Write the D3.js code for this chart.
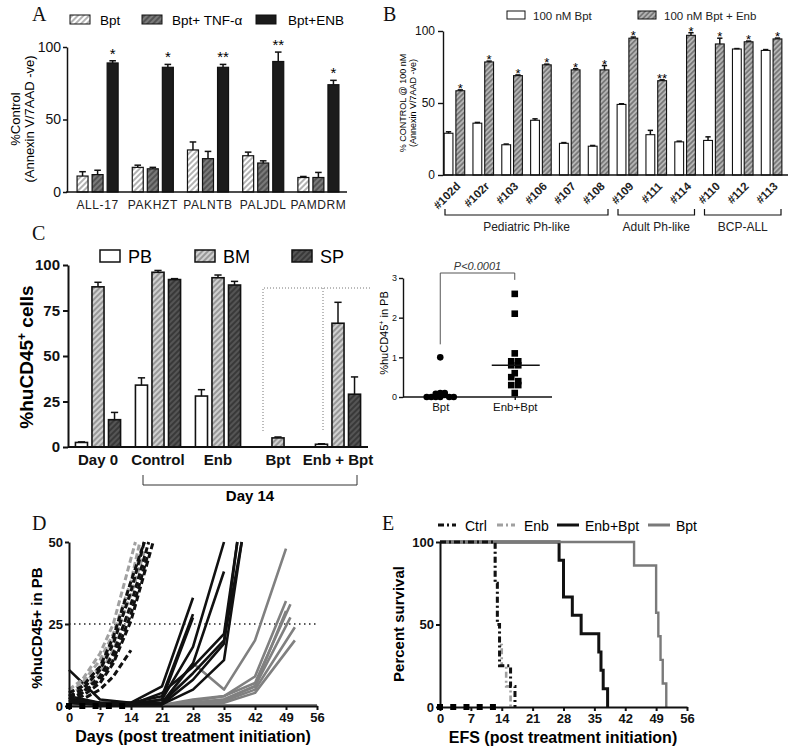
<!DOCTYPE html>
<html>
<head>
<meta charset="utf-8">
<script src="https://cdn.jsdelivr.net/npm/d3@7"></script>
<style>
  body { margin: 0; background: #fff; }
  svg { font-family: 'Liberation Sans', Arial, sans-serif; }
</style>
</head>
<body>
<svg id="fig" width="800" height="754"></svg>
<script>
// ---- panel A data
var aCategories = ['ALL-17', 'PAKHZT', 'PALNTB', 'PALJDL', 'PAMDRM']
var aBpt = [11, 17, 29, 25, 10]
var aBptErr = [3, 1.5, 5.5, 2.5, 0.7]
var aTnf = [12, 16, 23, 20, 10]
var aTnfErr = [3, 1, 5, 1.5, 3.5]
var aEnb = [89, 86, 86, 90, 74]
var aEnbErr = [1.5, 2, 2, 6.5, 3]
var aStars = ['*', '*', '**', '**', '*']

// ---- panel B data
var bCategories = ['#102d', '#102r', '#103', '#106', '#107', '#108', '#109', '#111', '#114', '#110', '#112', '#113']
var bBpt = [29, 36, 21, 38, 22, 20, 49, 28, 23, 24, 87.5, 86.5]
var bBptErr = [1, 0.5, 0.5, 1, 0.5, 0.5, 0.5, 3, 0.5, 2.5, 0.3, 0.6]
var bBptEnb = [58.5, 78.5, 69, 76.5, 73, 73, 95, 65.5, 97, 91, 92.5, 94.5]
var bBptEnbErr = [0.6, 0.6, 0.5, 0.5, 0.8, 3, 0.8, 0.6, 1.8, 4, 0.5, 0.6]
var bStars = ['*', '*', '*', '*', '*', '*', '*', '**', '*', '*', '*', '*']
var bGroupNames = ['Pediatric Ph-like', 'Adult Ph-like', 'BCP-ALL']
var bGroupFirst = ['#102d', '#109', '#110']
var bGroupLast = ['#108', '#114', '#113']

// ---- panel C data
var cCategories = ['Day 0', 'Control', 'Enb', 'Bpt', 'Enb + Bpt']
var cPB = [2.5, 34, 28, 0, 1.5]
var cPBErr = [0.3, 4, 3.5, 0, 0.3]
var cBM = [88, 96, 93, 5, 68]
var cBMErr = [2.5, 1, 1.5, 0.5, 11.5]
var cSP = [15, 92, 89, 0, 29]
var cSPErr = [4, 0.5, 2, 0, 9.5]

// inset scatter (%huCD45+ in PB)
var sBpt = [1.0, 0, 0, 0, 0, 0.05, 0.08, 0.1, 0, 0, 0.1]
var sEnbBpt = [2.6, 2.1, 1.1, 0.9, 0.9, 0.8, 0.8, 0.6, 0.5, 0.4, 0.3, 0.3, 0.1]

// ---- panel D data (day, %huCD45+)
var dCtrl = [
  [[0, 2], [3, 4], [7, 9], [10, 16], [14, 31], [18, 50]],
  [[0, 3], [3, 5], [7, 11], [10, 19], [14, 35], [17, 50]],
  [[0, 2], [3, 3], [7, 7], [10, 13], [14, 26], [19, 50]],
  [[0, 4], [3, 6], [7, 12], [10, 21], [14, 38], [17, 50]],
  [[0, 1], [3, 2], [7, 5], [10, 9], [14, 17]],
  [[0, 3], [3, 4], [7, 8], [10, 14], [14, 28], [18, 47]]
]
var dEnb = [
  [[0, 4], [3, 7], [7, 14], [10, 22], [14, 38], [16, 50]],
  [[0, 5], [3, 8], [7, 16], [10, 25], [13, 40], [15, 50]],
  [[0, 3], [3, 6], [7, 12], [10, 20], [14, 34], [17, 47]],
  [[0, 2], [3, 4], [7, 10], [10, 17], [14, 30]]
]
var dEnbBpt = [
  [[0, 11], [7, 2], [14, 1], [21, 6], [28, 33]],
  [[0, 2], [7, 1], [14, 1], [21, 3], [28, 28]],
  [[0, 1], [7, 0.5], [14, 0.5], [21, 2], [28, 27]],
  [[0, 3], [7, 1], [14, 0.5], [21, 2], [28, 18], [35, 50]],
  [[0, 2], [7, 0.5], [14, 1], [21, 1], [28, 13], [35, 41]],
  [[0, 1], [7, 0.5], [14, 0.5], [21, 4], [28, 12], [35, 22], [38, 50]],
  [[0, 2], [7, 1], [14, 0.5], [21, 1], [28, 10], [35, 20], [39, 50]],
  [[0, 1], [7, 0.5], [14, 0.5], [21, 0.5], [28, 8], [35, 19], [38, 50]],
  [[0, 2], [7, 0.5], [14, 0.5], [21, 0.5], [28, 5], [35, 14], [39, 50]]
]
var dBpt = [
  [[0, 3], [7, 0.5], [14, 0.3], [21, 0.5], [28, 13], [35, 5], [42, 20], [49, 48]],
  [[0, 2], [7, 0.5], [14, 0.3], [21, 0.3], [28, 2], [35, 3], [42, 9], [49, 32]],
  [[0, 1], [7, 0.3], [14, 0.2], [21, 0.2], [28, 1.5], [35, 3], [42, 7], [50, 31]],
  [[0, 1], [7, 0.3], [14, 0.2], [21, 0.3], [28, 1], [35, 2], [42, 6], [49, 29]],
  [[0, 0.5], [7, 0.2], [14, 0.2], [21, 0.2], [28, 1], [35, 2], [42, 6], [50, 27]],
  [[0, 0.5], [7, 0.2], [14, 0.1], [21, 0.2], [28, 0.5], [35, 1.5], [42, 5], [51, 24]],
  [[0, 0.3], [7, 0.1], [14, 0.1], [21, 0.1], [28, 0.5], [35, 1], [42, 4], [51, 20]],
  [[0, 0.2], [7, 0.1], [14, 0.1], [21, 0.1], [28, 0.3], [35, 0.2], [42, 0.2], [49, 0.2], [56, 0.2]]
]
var dosingDays = [0, 3, 6, 9, 12]
var dayTicks = [0, 7, 14, 21, 28, 35, 42, 49, 56]

// ---- panel E data (event days)
var eCtrl = [12.5, 12.5, 13, 13, 13.5, 13.5, 16, 17]
var eEnb = [12.5, 12.5, 13, 13, 13.5, 14, 15, 16]
var eEnbBpt = [27, 28, 28, 30, 32, 36, 36.5, 37, 38]
var eBpt = [44, 49, 49, 49.5, 50, 50.5, 51.3]

var svg = d3.select('#fig')
var defs = svg.append('defs')
var serif = "'Liberation Serif', 'DejaVu Serif', serif"

function hatch (id, bg, fg, gap, sw) {
  var p = defs.append('pattern')
    .attr('id', id)
    .attr('patternUnits', 'userSpaceOnUse')
    .attr('width', gap)
    .attr('height', gap)
    .attr('patternTransform', 'rotate(45)')
  p.append('rect').attr('width', gap).attr('height', gap).attr('fill', bg)
  p.append('line')
    .attr('x1', gap / 2).attr('y1', 0).attr('x2', gap / 2).attr('y2', gap)
    .attr('stroke', fg).attr('stroke-width', sw)
}
hatch('hA1', '#fff', '#8a8a8a', 4, 1.3)
hatch('hA2', '#7a7a7a', '#3e3e3e', 4, 1.3)
hatch('hB', '#b5b5b5', '#555', 3.5, 1.1)
hatch('hC1', '#d0d0d0', '#7a7a7a', 4, 1.3)
hatch('hC2', '#555', '#2a2a2a', 4, 1.3)

function panelLetter (t, x, y) {
  svg.append('text').attr('x', x).attr('y', y).text(t)
    .style('font-family', serif).style('font-size', '20px').style('fill', '#111')
}

// generic grouped bars with upward error bars
function drawBars (g, cats, x, sub, y, series, sw) {
  series.forEach(function (s) {
    var rows = cats.map(function (c, i) {
      return { cat: c, v: s.values[i], e: s.err[i] }
    }).filter(function (d) { return d.v > 0 })
    var bw = sub.bandwidth()
    g.selectAll('.bar-' + s.key)
      .data(rows)
      .enter()
      .append('rect')
      .attr('x', function (d) { return x(d.cat) + sub(s.key) })
      .attr('y', function (d) { return y(d.v) })
      .attr('width', bw)
      .attr('height', function (d) { return y(0) - y(d.v) })
      .attr('fill', s.fill)
      .attr('stroke', '#111')
      .attr('stroke-width', sw)
    var eb = g.selectAll('.err-' + s.key)
      .data(rows.filter(function (d) { return d.e > 0 }))
      .enter()
      .append('g')
    eb.append('line')
      .attr('x1', function (d) { return x(d.cat) + sub(s.key) + bw / 2 })
      .attr('x2', function (d) { return x(d.cat) + sub(s.key) + bw / 2 })
      .attr('y1', function (d) { return y(d.v) })
      .attr('y2', function (d) { return y(d.v + d.e) })
      .attr('stroke', '#111').attr('stroke-width', 1.5)
    eb.append('line')
      .attr('x1', function (d) { return x(d.cat) + sub(s.key) + bw / 2 - bw * 0.3 })
      .attr('x2', function (d) { return x(d.cat) + sub(s.key) + bw / 2 + bw * 0.3 })
      .attr('y1', function (d) { return y(d.v + d.e) })
      .attr('y2', function (d) { return y(d.v + d.e) })
      .attr('stroke', '#111').attr('stroke-width', 1.5)
  })
}

function styleAxis (sel, size, weight, width) {
  sel.selectAll('path,line').attr('stroke', '#111').attr('stroke-width', width)
  sel.selectAll('text')
    .style('font-size', size + 'px')
    .style('font-weight', weight)
    .style('fill', '#111')
    .style('font-family', "'Liberation Sans', Arial, sans-serif")
}

// ================= Panel A =================
panelLetter('A', 32, 21)
var gA = svg.append('g')
var xA = d3.scaleBand().domain(aCategories).range([70, 346])
var subA = d3.scaleBand().domain(['Bpt', 'TNF', 'ENB']).range([0, xA.bandwidth()])
  .paddingInner(0.27).paddingOuter(0.47)
var yA = d3.scaleLinear().domain([0, 100]).range([192, 47])

drawBars(gA, aCategories, xA, subA, yA, [
  { key: 'Bpt', values: aBpt, err: aBptErr, fill: 'url(#hA1)' },
  { key: 'TNF', values: aTnf, err: aTnfErr, fill: 'url(#hA2)' },
  { key: 'ENB', values: aEnb, err: aEnbErr, fill: '#1b1b1b' }
], 1.2)

gA.selectAll('.starA')
  .data(aCategories)
  .enter()
  .append('text')
  .attr('x', function (d) { return xA(d) + subA('ENB') + subA.bandwidth() / 2 })
  .attr('y', function (d, i) { return yA(aEnb[i] + aEnbErr[i]) - 2 })
  .attr('text-anchor', 'middle')
  .style('font-size', '15px')
  .text(function (d, i) { return aStars[i] })

var yAxA = gA.append('g').attr('transform', 'translate(67,0)')
  .call(d3.axisLeft(yA).tickValues([0, 50, 100]).tickSize(4).tickSizeOuter(0).tickPadding(2))
styleAxis(yAxA, 14, 'normal', 1.5)
var xAxA = gA.append('g').attr('transform', 'translate(0,192)')
  .call(d3.axisBottom(xA).tickSize(0).tickPadding(8))
xAxA.select('.domain').attr('d', 'M66,0H347')
styleAxis(xAxA, 12, 'normal', 1.5)
xAxA.selectAll('text').style('letter-spacing', '0.6px').style('fill', '#222')

gA.append('text').attr('transform', 'translate(20,119) rotate(-90)')
  .attr('text-anchor', 'middle').style('font-size', '13px').text('%Control')
gA.append('text').attr('transform', 'translate(34,119) rotate(-90)')
  .attr('text-anchor', 'middle').style('font-size', '13px').text('(Annexin V/7AAD -ve)')

var aLegend = [
  { label: 'Bpt', fill: 'url(#hA1)', x: 70 },
  { label: 'Bpt+ TNF-\u03b1', fill: 'url(#hA2)', x: 142 },
  { label: 'Bpt+ENB', fill: '#1b1b1b', x: 256 }
]
var lgA = gA.selectAll('.lgA').data(aLegend).enter().append('g')
  .attr('transform', function (d) { return 'translate(' + d.x + ',15)' })
lgA.append('rect').attr('width', 20).attr('height', 9)
  .attr('fill', function (d) { return d.fill }).attr('stroke', '#111').attr('stroke-width', 1)
lgA.append('text').attr('x', function (d, i) { return i === 2 ? 32 : 30 }).attr('y', 10)
  .style('font-size', '13.5px').text(function (d) { return d.label })

// ================= Panel B =================
panelLetter('B', 383, 21)
var gB = svg.append('g')
var xB = d3.scaleBand().domain(bCategories).range([440, 786])
var subB = d3.scaleBand().domain(['bpt', 'enb']).range([0, xB.bandwidth()])
  .paddingInner(0.25).paddingOuter(0.35)
var yB = d3.scaleLinear().domain([0, 100]).range([175, 31])

drawBars(gB, bCategories, xB, subB, yB, [
  { key: 'bpt', values: bBpt, err: bBptErr, fill: '#fff' },
  { key: 'enb', values: bBptEnb, err: bBptEnbErr, fill: 'url(#hB)' }
], 1.1)

gB.selectAll('.starB')
  .data(bCategories)
  .enter()
  .append('text')
  .attr('x', function (d) { return xB(d) + subB('enb') + subB.bandwidth() / 2 })
  .attr('y', function (d, i) { return yB(bBptEnb[i] + bBptEnbErr[i]) + 3 })
  .attr('text-anchor', 'middle')
  .style('font-size', '13px')
  .text(function (d, i) { return bStars[i] })

var yAxB = gB.append('g').attr('transform', 'translate(443,0)')
  .call(d3.axisLeft(yB).tickValues([0, 50, 100]).tickSize(5).tickSizeOuter(0).tickPadding(3))
styleAxis(yAxB, 12, 'normal', 1.4)
var xAxB = gB.append('g').attr('transform', 'translate(0,175)')
  .call(d3.axisBottom(xB).tickSize(0).tickFormat(''))
xAxB.select('.domain').attr('d', 'M443,0H788')
styleAxis(xAxB, 12, 'normal', 1.4)

gB.selectAll('.xlabB')
  .data(bCategories)
  .enter()
  .append('text')
  .attr('transform', function (d) {
    return 'translate(' + (xB(d) + xB.bandwidth() / 2 + 4) + ',184) rotate(-45)'
  })
  .attr('text-anchor', 'end')
  .attr('dy', '0.35em')
  .style('font-size', '11.5px')
  .style('font-weight', 'bold')
  .style('fill', '#222')
  .text(function (d) { return d })

bGroupNames.forEach(function (name, i) {
  var x0 = xB(bGroupFirst[i]) + 5
  var x1 = xB(bGroupLast[i]) + xB.bandwidth() - 5
  gB.append('path')
    .attr('d', 'M' + x0 + ',209V215H' + x1 + 'V209')
    .attr('fill', 'none').attr('stroke', '#111').attr('stroke-width', 1.2)
  gB.append('text').attr('x', (x0 + x1) / 2).attr('y', 231)
    .attr('text-anchor', 'middle').style('font-size', '12px').style('fill', '#222').text(name)
})

gB.append('text').attr('transform', 'translate(406,103) rotate(-90)')
  .attr('text-anchor', 'middle').style('font-size', '9px').text('% CONTROL @ 100 nM')
gB.append('text').attr('transform', 'translate(416,103) rotate(-90)')
  .attr('text-anchor', 'middle').style('font-size', '9px').text('(Annexin V/7AAD -ve)')

var bLegend = [
  { label: '100 nM Bpt', fill: '#fff', x: 507 },
  { label: '100 nM Bpt + Enb', fill: 'url(#hB)', x: 638 }
]
var lgB = gB.selectAll('.lgB').data(bLegend).enter().append('g')
  .attr('transform', function (d) { return 'translate(' + d.x + ',11)' })
lgB.append('rect').attr('width', 18).attr('height', 8)
  .attr('fill', function (d) { return d.fill }).attr('stroke', '#111').attr('stroke-width', 1)
lgB.append('text').attr('x', 26).attr('y', 8.5)
  .style('font-size', '11.5px').style('fill', '#222').text(function (d) { return d.label })

// ================= Panel C =================
panelLetter('C', 32, 240)
var gC = svg.append('g')
var xC = d3.scaleBand().domain(cCategories).range([68, 368])
var subC = d3.scaleBand().domain(['PB', 'BM', 'SP']).range([0, xC.bandwidth()])
  .paddingInner(0.27).paddingOuter(0.45)
var yC = d3.scaleLinear().domain([0, 100]).range([447, 265])

// dotted box linking to the inset
gC.append('path')
  .attr('d', 'M' + (xC('Bpt') + 15) + ',431V288H372M' + (xC('Enb + Bpt') + 15) + ',288V431')
  .attr('fill', 'none').attr('stroke', '#777').attr('stroke-width', 1)
  .attr('stroke-dasharray', '1,2')

drawBars(gC, cCategories, xC, subC, yC, [
  { key: 'PB', values: cPB, err: cPBErr, fill: '#fff' },
  { key: 'BM', values: cBM, err: cBMErr, fill: 'url(#hC1)' },
  { key: 'SP', values: cSP, err: cSPErr, fill: 'url(#hC2)' }
], 1.6)

var yAxC = gC.append('g').attr('transform', 'translate(68,0)')
  .call(d3.axisLeft(yC).tickValues([0, 25, 50, 75, 100]).tickSize(5).tickSizeOuter(0).tickPadding(3))
styleAxis(yAxC, 15, 'bold', 2)
var xAxC = gC.append('g').attr('transform', 'translate(0,447)')
  .call(d3.axisBottom(xC).tickSize(0).tickPadding(7))
xAxC.select('.domain').attr('d', 'M68,0H368')
styleAxis(xAxC, 15, 'bold', 2)

var d14l = xC('Control') + 15
var d14r = xC('Enb + Bpt') + xC.bandwidth() - 11
gC.append('path')
  .attr('d', 'M' + d14l + ',475V485H' + d14r + 'V475')
  .attr('fill', 'none').attr('stroke', '#333').attr('stroke-width', 1)
gC.append('text').attr('x', (d14l + d14r) / 2).attr('y', 501)
  .attr('text-anchor', 'middle').style('font-size', '15px').style('font-weight', 'bold').text('Day 14')

var yTitleC = gC.append('text').attr('transform', 'translate(33,357) rotate(-90)')
  .attr('text-anchor', 'middle').style('font-size', '19px').style('font-weight', 'bold')
yTitleC.append('tspan').text('%huCD45')
yTitleC.append('tspan').attr('dy', -7).style('font-size', '12px').text('+')
yTitleC.append('tspan').attr('dy', 7).text(' cells')

var cLegend = [
  { label: 'PB', fill: '#fff', x: 100 },
  { label: 'BM', fill: 'url(#hC1)', x: 195 },
  { label: 'SP', fill: 'url(#hC2)', x: 292 }
]
var lgC = gC.selectAll('.lgC').data(cLegend).enter().append('g')
  .attr('transform', function (d) { return 'translate(' + d.x + ',250)' })
lgC.append('rect').attr('width', 20).attr('height', 12)
  .attr('fill', function (d) { return d.fill }).attr('stroke', '#111').attr('stroke-width', 1.5)
lgC.append('text').attr('x', 28).attr('y', 13)
  .style('font-size', '18px').text(function (d) { return d.label })

// ---- inset scatter
var gS = svg.append('g')
var xS = d3.scalePoint().domain(['Bpt', 'Enb+Bpt']).range([403, 552]).padding(0.5)
var yS = d3.scaleLinear().domain([0, 3]).range([397, 278])

// simple dodge: points falling in the same value bin are spread sideways
function dodge (values, spacing) {
  var bins = d3.group(values.map(function (v, i) { return { v: v, i: i } }),
    function (d) { return Math.round(d.v / 0.15) })
  var out = []
  bins.forEach(function (arr) {
    arr.forEach(function (d, k) {
      out.push({ v: d.v, off: (k - (arr.length - 1) / 2) * spacing })
    })
  })
  return out
}

var yAxS = gS.append('g').attr('transform', 'translate(403,0)')
  .call(d3.axisLeft(yS).tickValues([0, 1, 2, 3]).tickFormat(d3.format('d'))
    .tickSize(4).tickSizeOuter(0).tickPadding(2))
styleAxis(yAxS, 9, 'normal', 1.4)
var xAxS = gS.append('g').attr('transform', 'translate(0,397)')
  .call(d3.axisBottom(xS).tickSize(3).tickPadding(3))
xAxS.select('.domain').attr('d', 'M403,0H552')
styleAxis(xAxS, 11.5, 'normal', 1.4)

gS.selectAll('.ptBpt')
  .data(dodge(sBpt, 4.5))
  .enter()
  .append('circle')
  .attr('cx', function (d) { return xS('Bpt') + d.off })
  .attr('cy', function (d) { return yS(d.v) })
  .attr('r', 3.3)
  .attr('fill', '#000')

gS.selectAll('.ptEnb')
  .data(dodge(sEnbBpt, 7))
  .enter()
  .append('rect')
  .attr('x', function (d) { return xS('Enb+Bpt') + d.off - 3.3 })
  .attr('y', function (d) { return yS(d.v) - 3.3 })
  .attr('width', 6.6)
  .attr('height', 6.6)
  .attr('fill', '#000')

var medEnb = d3.median(sEnbBpt)
gS.append('line')
  .attr('x1', xS('Enb+Bpt') - 23).attr('x2', xS('Enb+Bpt') + 25)
  .attr('y1', yS(medEnb)).attr('y2', yS(medEnb))
  .attr('stroke', '#111').attr('stroke-width', 1.6)

var pTop = yS(3) - 5
gS.append('path')
  .attr('d', 'M' + xS('Bpt') + ',' + (yS(d3.max(sBpt)) - 13) + 'V' + pTop + 'H' + xS('Enb+Bpt') +
    'V' + (yS(d3.max(sEnbBpt)) - 14))
  .attr('fill', 'none').attr('stroke', '#555').attr('stroke-width', 1)
gS.append('text').attr('x', (xS('Bpt') + xS('Enb+Bpt')) / 2).attr('y', pTop - 3)
  .attr('text-anchor', 'middle').style('font-size', '11px').style('font-style', 'italic')
  .style('fill', '#333').text('P<0.0001')

var yTitleS = gS.append('text').attr('transform', 'translate(388,333) rotate(-90)')
  .attr('text-anchor', 'middle').style('font-size', '11px')
yTitleS.append('tspan').text('%huCD45')
yTitleS.append('tspan').attr('dy', -4).style('font-size', '7px').text('+')
yTitleS.append('tspan').attr('dy', 4).text(' in PB')

// ================= Panel D =================
panelLetter('D', 32, 530)
var gD = svg.append('g')
var xD = d3.scaleLinear().domain([0, 56]).range([69, 317])
var yD = d3.scaleLinear().domain([0, 50]).range([706, 542])
var lineD = d3.line()
  .x(function (d) { return xD(d[0]) })
  .y(function (d) { return yD(d[1]) })

gD.append('line')
  .attr('x1', xD(0)).attr('x2', xD(56)).attr('y1', yD(25)).attr('y2', yD(25))
  .attr('stroke', '#222').attr('stroke-width', 1.3).attr('stroke-dasharray', '1.5,3.5')

var dSets = [
  { lines: dBpt, color: '#808080', dash: null, w: 2.6 },
  { lines: dEnbBpt, color: '#111', dash: null, w: 2.6 },
  { lines: dEnb, color: '#a0a0a0', dash: '6,3', w: 3 },
  { lines: dCtrl, color: '#111', dash: '6,3', w: 3 }
]
dSets.forEach(function (s) {
  gD.append('g').selectAll('path')
    .data(s.lines)
    .enter()
    .append('path')
    .attr('d', lineD)
    .attr('fill', 'none')
    .attr('stroke', s.color)
    .attr('stroke-width', s.w)
    .attr('stroke-dasharray', s.dash)
    .attr('stroke-linejoin', 'round')
})

var yAxD = gD.append('g').attr('transform', 'translate(69,0)')
  .call(d3.axisLeft(yD).tickValues([0, 25, 50]).tickSize(4).tickSizeOuter(0).tickPadding(2))
styleAxis(yAxD, 13, 'bold', 2)
var xAxD = gD.append('g').attr('transform', 'translate(0,706)')
  .call(d3.axisBottom(xD).tickValues(dayTicks).tickSize(4).tickSizeOuter(0).tickPadding(3))
styleAxis(xAxD, 13, 'bold', 2)

gD.selectAll('.doseD').data(dosingDays).enter().append('rect')
  .attr('x', function (d) { return xD(d) - 3 }).attr('y', yD(0) - 3)
  .attr('width', 6).attr('height', 6).attr('fill', '#000')

gD.append('text').attr('x', 193).attr('y', 742).attr('text-anchor', 'middle')
  .style('font-size', '16px').style('font-weight', 'bold').text('Days (post treatment initiation)')
gD.append('text').attr('transform', 'translate(42,628) rotate(-90)')
  .attr('text-anchor', 'middle').style('font-size', '15px').style('font-weight', 'bold')
  .text('%huCD45+ in PB')

// ================= Panel E =================
panelLetter('E', 382, 530)
var gE = svg.append('g')
var xE = d3.scaleLinear().domain([0, 56]).range([440, 687])
var yE = d3.scaleLinear().domain([0, 100]).range([707, 542])
var stepE = d3.line()
  .curve(d3.curveStepAfter)
  .x(function (d) { return xE(d[0]) })
  .y(function (d) { return yE(d[1]) })

function km (times) {
  var n = times.length
  var pts = [[0, 100]]
  var dead = 0
  d3.rollups(times, function (v) { return v.length }, function (t) { return t })
    .sort(function (a, b) { return a[0] - b[0] })
    .forEach(function (r) {
      dead += r[1]
      pts.push([r[0], (n - dead) / n * 100])
    })
  return pts
}

// drawing order: the grey Bpt curve covers the shared 100% line, Ctrl dashes on top
var eSets = [
  { label: 'Enb+Bpt', times: eEnbBpt, color: '#111', dash: null, w: 3 },
  { label: 'Bpt', times: eBpt, color: '#7a7a7a', dash: null, w: 2.4 },
  { label: 'Enb', times: eEnb, color: '#a0a0a0', dash: '6,3,2,3', w: 2.6 },
  { label: 'Ctrl', times: eCtrl, color: '#111', dash: '6,3,2,3', w: 3 }
]
eSets.forEach(function (s) {
  gE.append('path')
    .datum(km(s.times))
    .attr('d', stepE)
    .attr('fill', 'none')
    .attr('stroke', s.color)
    .attr('stroke-width', s.w)
    .attr('stroke-dasharray', s.dash)
})

var yAxE = gE.append('g').attr('transform', 'translate(440,0)')
  .call(d3.axisLeft(yE).tickValues([0, 50, 100]).tickSize(4).tickSizeOuter(0).tickPadding(2))
styleAxis(yAxE, 13, 'bold', 2)
var xAxE = gE.append('g').attr('transform', 'translate(0,707)')
  .call(d3.axisBottom(xE).tickValues(dayTicks).tickSize(4).tickSizeOuter(0).tickPadding(3))
styleAxis(xAxE, 13, 'bold', 2)

gE.selectAll('.doseE').data(dosingDays).enter().append('rect')
  .attr('x', function (d) { return xE(d) - 3 }).attr('y', yE(0) - 3)
  .attr('width', 6).attr('height', 6).attr('fill', '#000')

gE.append('text').attr('x', 563).attr('y', 743).attr('text-anchor', 'middle')
  .style('font-size', '16px').style('font-weight', 'bold').text('EFS (post treatment initiation)')
gE.append('text').attr('transform', 'translate(404,624) rotate(-90)')
  .attr('text-anchor', 'middle').style('font-size', '15px').style('font-weight', 'bold')
  .text('Percent survival')

var eLegend = [
  { label: 'Ctrl', color: '#111', dash: '6,3,2,3', x: 438 },
  { label: 'Enb', color: '#a0a0a0', dash: '6,3,2,3', x: 497 },
  { label: 'Enb+Bpt', color: '#111', dash: null, x: 557 },
  { label: 'Bpt', color: '#7a7a7a', dash: null, x: 648 }
]
var lgE = gE.selectAll('.lgE').data(eLegend).enter().append('g')
  .attr('transform', function (d) { return 'translate(' + d.x + ',525)' })
lgE.append('line').attr('x1', 0).attr('x2', function (d, i) { return i < 2 ? 18 : 22 })
  .attr('y1', 0).attr('y2', 0)
  .attr('stroke', function (d) { return d.color }).attr('stroke-width', 3)
  .attr('stroke-dasharray', function (d) { return d.dash })
lgE.append('text').attr('x', function (d, i) { return i < 2 ? 27 : 28 }).attr('y', 5.5)
  .style('font-size', '14px').text(function (d) { return d.label })
</script>
</body>
</html>
